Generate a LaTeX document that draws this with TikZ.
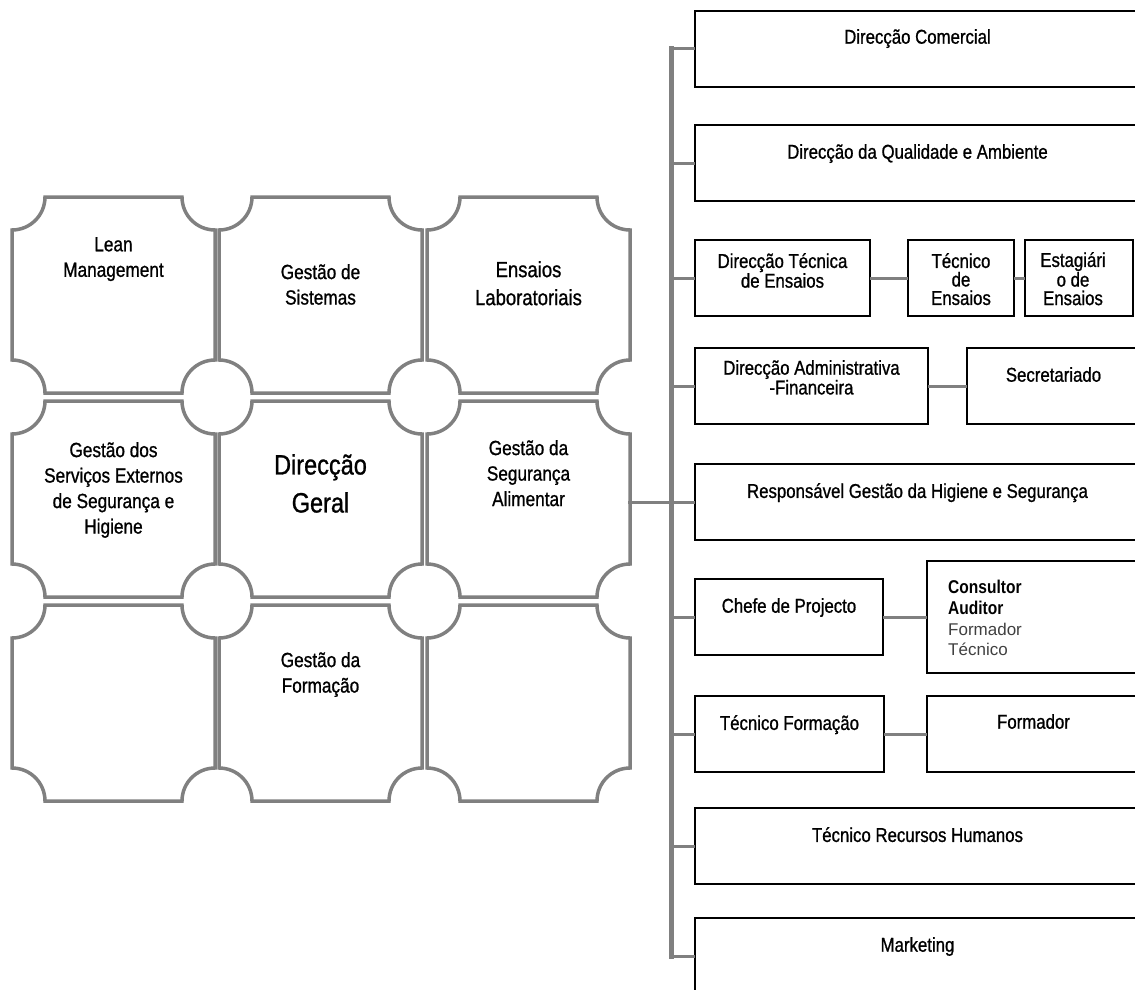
\documentclass[tikz,border=0pt]{standalone}
\usepackage{fontspec}
\setmainfont[FakeStretch=0.84, UprightFeatures={FakeBold=0.9}]{Liberation Sans}
\newfontfamily\plainsans{Liberation Sans}
\usepackage{tikz}
\usetikzlibrary{positioning}

\begin{document}
\begin{tikzpicture}[x=1pt,y=-1pt]
% Define styles
\tikzstyle{tile} = [draw=black!50, line width=3.5pt]
\tikzstyle{tiletext} = [anchor=north, inner sep=0pt, align=center, font=\fontsize{20.5}{25.5}\selectfont]
\tikzstyle{unit} = [rectangle, draw=black, line width=1.6pt, anchor=north west, inner sep=0pt, outer sep=0pt, minimum height=76pt]
\tikzstyle{unittext} = [anchor=north, inner sep=0pt, align=center, font=\fontsize{20}{18.5}\selectfont]
\tikzstyle{link} = [draw=black!50, line width=3pt]
\tikzstyle{trunkline} = [draw=black!50, line width=5pt, line cap=rect]

\useasboundingbox (0,0) rectangle (1135,990);
\clip (0,0) rectangle (1135,990);

% Draw tiles
\foreach \x in {12,219,427}
  \foreach \y in {197,401,605}
    \draw[tile] (\x+33,\y) -- (\x+170,\y) arc[start angle=180, end angle=90, radius=33]
      -- (\x+203,\y+163) arc[start angle=270, end angle=180, radius=33]
      -- (\x+33,\y+196) arc[start angle=0, end angle=-90, radius=33]
      -- (\x,\y+33) arc[start angle=90, end angle=0, radius=33] -- cycle;

% Draw nodes
\node (lean) [tiletext] at (113.5,237) {Lean\\Management};
\node (sist) [tiletext] at (320.5,264) {Gestão de\\Sistemas};
\node (lab) [tiletext, font=\fontsize{22}{28}\selectfont] at (528.5,261) {Ensaios\\Laboratoriais};
\node (ext) [tiletext] at (113.5,442) {Gestão dos\\Serviços Externos\\de Segurança e\\Higiene};
\node (geral) [tiletext, font=\fontsize{28}{38}\selectfont] at (320.5,454) {Direcção\\Geral};
\node (alim) [tiletext] at (528.5,440) {Gestão da\\Segurança\\Alimentar};
\node (gform) [tiletext] at (320.5,652) {Gestão da\\Formação};

\node (com) [unit, minimum width=445pt] at (695,11) {};
\node (qual) [unit, minimum width=445pt] at (695,125) {};
\node (tec) [unit, minimum width=175pt] at (695,240) {};
\node (tecens) [unit, minimum width=106pt, right=38pt of tec] {};
\node (estag) [unit, minimum width=108pt, right=11pt of tecens] {};
\node (adm) [unit, minimum width=233pt] at (695,348) {};
\node (sec) [unit, minimum width=173pt, right=39pt of adm] {};
\node (resp) [unit, minimum width=445pt] at (695,464) {};
\node (chefe) [unit, minimum width=188pt] at (695,579) {};
\node (cons) [unit, minimum width=213pt, minimum height=112pt, right=44pt of chefe] {};
\node (tform) [unit, minimum width=189pt] at (695,696) {};
\node (formador) [unit, minimum width=213pt, right=43pt of tform] {};
\node (rh) [unit, minimum width=445pt] at (695,808) {};
\node (mkt) [unit, minimum width=445pt] at (695,918) {};

\node (comtxt) [unittext, below=18pt of com.north] {Direcção Comercial};
\node (qualtxt) [unittext, below=19pt of qual.north] {Direcção da Qualidade e Ambiente};
\node (tectxt) [unittext, below=13pt of tec.north] {Direcção Técnica\\de Ensaios};
\node (tecenstxt) [unittext, below=13pt of tecens.north] {Técnico\\de\\Ensaios};
\node (estagtxt) [unittext, below=12pt of estag.north, xshift=-6pt] {Estagiári\\o de\\Ensaios};
\node (admtxt) [unittext, below=12pt of adm.north] {Direcção Administrativa\\-Financeira};
\node (sectxt) [unittext, below=19pt of sec.north] {Secretariado};
\node (resptxt) [unittext, below=19pt of resp.north] {Responsável Gestão da Higiene e Segurança};
\node (chefetxt) [unittext, below=19pt of chefe.north] {Chefe de Projecto};
\node (constxt) [anchor=north west, inner sep=0pt, align=left, font=\fontsize{18.5}{20.7}\selectfont\bfseries]
  at ([xshift=21pt, yshift=-19pt]cons.north west)
  {Consultor\\Auditor\\{\mdseries\plainsans\fontsize{17}{20.7}\selectfont\color{black!75}Formador}\\{\mdseries\plainsans\fontsize{17}{20.7}\selectfont\color{black!75}Técnico}};
\node (tformtxt) [unittext, below=19pt of tform.north] {Técnico Formação};
\node (formadortxt) [unittext, below=18pt of formador.north] {Formador};
\node (rhtxt) [unittext, below=19pt of rh.north] {Técnico Recursos Humanos};
\node (mkttxt) [unittext, below=19pt of mkt.north] {Marketing};

% Draw lines
\coordinate (spine) at (671,0);
\coordinate (gridout) at (628,0);
\draw[trunkline] (com.west -| spine) -- (mkt.west -| spine);
\foreach \n in {com,qual,tec,adm,resp,chefe,tform,rh,mkt}
  \draw[link] (\n.west -| spine) -- (\n.west);
\draw[link] (resp.west -| gridout) -- (resp.west -| spine);
\draw[link] (tec) -- (tecens);
\draw[link] (tecens) -- (estag);
\draw[link] (adm) -- (sec);
\draw[link] (chefe) -- (cons);
\draw[link] (tform) -- (formador);

\end{tikzpicture}
\end{document}
